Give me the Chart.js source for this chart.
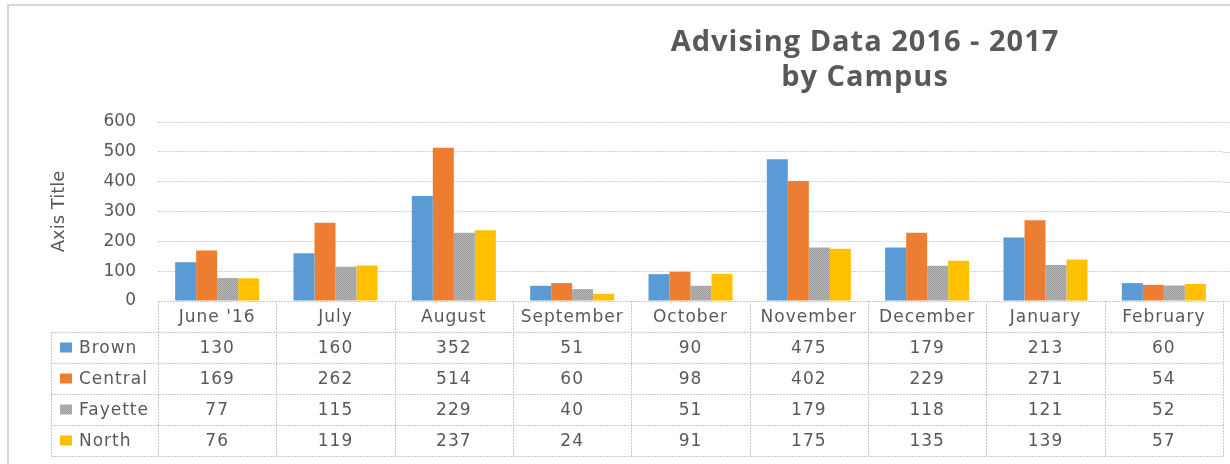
<!DOCTYPE html>
<html>
<head>
<meta charset="utf-8">
<script src="https://cdn.jsdelivr.net/npm/chart.js@4.4.1/dist/chart.umd.min.js"></script>
<style>
  body { margin: 0; background: #fff; overflow: hidden; }
</style>
</head>
<body>
<canvas id="chart-1" width="1230" height="464"></canvas>
<script>
const months = ["June '16", 'July', 'August', 'September', 'October', 'November', 'December', 'January', 'February'];
const campuses = ['Brown', 'Central', 'Fayette', 'North'];
const brown = [130, 160, 352, 51, 90, 475, 179, 213, 60];
const central = [169, 262, 514, 60, 98, 402, 229, 271, 54];
const fayette = [77, 115, 229, 40, 51, 179, 118, 121, 52];
const north = [76, 119, 237, 24, 91, 175, 135, 139, 57];
const yMax = 600;
const yStep = 100;
const titleLines = ['Advising Data 2016 - 2017', 'by Campus'];

// Fayette bars have a fine dotted gray texture
function grayPattern() {
  const c = document.createElement('canvas');
  c.width = 2; c.height = 2;
  const g = c.getContext('2d');
  g.fillStyle = '#b6b6b6'; g.fillRect(0, 0, 2, 2);
  g.fillStyle = '#9c9c9c'; g.fillRect(0, 0, 1, 1); g.fillRect(1, 1, 1, 1);
  return g.createPattern(c, 'repeat');
}

const textColor = '#595959';
const lineColor = '#c8c8c8';
const bodyFont = '17px "DejaVu Sans"';

const tablePlugin = {
  id: 'dataTable',
  beforeDraw(chart) {
    const ctx = chart.ctx;
    ctx.save();
    ctx.strokeStyle = '#d6d6d6';
    ctx.lineWidth = 2;
    ctx.beginPath();
    ctx.moveTo(8, 464); ctx.lineTo(8, 5); ctx.lineTo(1230, 5);
    ctx.stroke();
    ctx.restore();
  },
  afterDraw(chart) {
    const { ctx, chartArea } = chart;
    const x = chart.scales.x;
    const y = chart.scales.y;
    const colW = (chartArea.right - chartArea.left) / months.length;
    const top = Math.round(chartArea.bottom);
    const rowH = 31;
    const legendLeft = 51;
    const bottom = top + rowH * (campuses.length + 1);

    ctx.save();
    // title
    ctx.fillStyle = textColor;
    ctx.textAlign = 'center';
    ctx.textBaseline = 'alphabetic';
    ctx.font = 'bold 29px "Open Sans"';
    ctx.letterSpacing = '1px';
    ctx.fillText(titleLines[0], 865, 51);
    ctx.fillText(titleLines[1], 865, 86);

    // gridlines run on past the cropped right edge
    ctx.strokeStyle = '#d0d0d0';
    ctx.lineWidth = 1;
    ctx.setLineDash([2, 1]);
    ctx.beginPath();
    y.ticks.forEach(t => {
      const yy = Math.round(y.getPixelForValue(t.value)) + 0.5;
      ctx.moveTo(chartArea.right, yy);
      ctx.lineTo(1230, yy);
    });
    ctx.stroke();

    // table lines
    ctx.strokeStyle = lineColor;
    ctx.beginPath();
    for (let r = 0; r <= campuses.length + 1; r++) {
      const yy = top + r * rowH + 0.5;
      ctx.moveTo(r === 0 ? chartArea.left : legendLeft, yy);
      ctx.lineTo(chartArea.right, yy);
    }
    for (let i = 0; i <= months.length; i++) {
      const xx = Math.round(chartArea.left + i * colW) + 0.5;
      ctx.moveTo(xx, top);
      ctx.lineTo(xx, bottom);
    }
    ctx.moveTo(legendLeft + 0.5, top + rowH);
    ctx.lineTo(legendLeft + 0.5, bottom);
    ctx.stroke();
    ctx.setLineDash([]);

    // header and values
    ctx.font = bodyFont;
    ctx.textBaseline = 'middle';
    ctx.textAlign = 'center';
    ctx.fillStyle = textColor;
    months.forEach((m, i) => {
      const cx = x.getPixelForValue(i);
      ctx.fillText(m, cx, top + rowH / 2 + 1);
      chart.data.datasets.forEach((ds, r) => {
        ctx.fillText(String(ds.data[i]), cx, top + rowH * (r + 1) + rowH / 2 + 1);
      });
    });

    // legend keys
    ctx.textAlign = 'left';
    chart.data.datasets.forEach((ds, r) => {
      const cy = top + rowH * (r + 1) + rowH / 2;
      ctx.fillStyle = ds.backgroundColor;
      ctx.fillRect(60, cy - 5, 12, 10);
      ctx.fillStyle = textColor;
      ctx.fillText(ds.label, 79, cy + 1);
    });
    ctx.restore();
  }
};

const ctx1 = document.getElementById('chart-1').getContext('2d');

const myChart = new Chart(ctx1, {
  type: 'bar',
  data: {
    labels: months,
    datasets: [
      { label: campuses[0], data: brown, backgroundColor: '#5b9bd5' },
      { label: campuses[1], data: central, backgroundColor: '#ed7d31' },
      { label: campuses[2], data: fayette, backgroundColor: grayPattern() },
      { label: campuses[3], data: north, backgroundColor: '#ffc000' }
    ]
  },
  options: {
    responsive: false,
    animation: false,
    devicePixelRatio: 1,
    layout: { padding: { left: 46, right: 7, top: 122, bottom: 163 } },
    datasets: {
      bar: { categoryPercentage: 0.71, barPercentage: 1.0 }
    },
    plugins: {
      legend: { display: false },
      title: { display: false },
      tooltip: { enabled: false }
    },
    scales: {
      x: { display: false },
      y: {
        min: 0,
        max: yMax,
        afterFit(scale) { scale.width = 112; },
        ticks: {
          stepSize: yStep,
          padding: 22,
          color: textColor,
          font: { family: 'DejaVu Sans', size: 17 }
        },
        grid: { color: '#d0d0d0', drawTicks: false },
        border: { display: false, dash: [2, 1] },
        title: {
          display: true,
          text: 'Axis Title',
          color: textColor,
          font: { family: 'DejaVu Sans', size: 18 },
          padding: { top: 3, bottom: 0 }
        }
      }
    }
  },
  plugins: [tablePlugin]
});
</script>
</body>
</html>
